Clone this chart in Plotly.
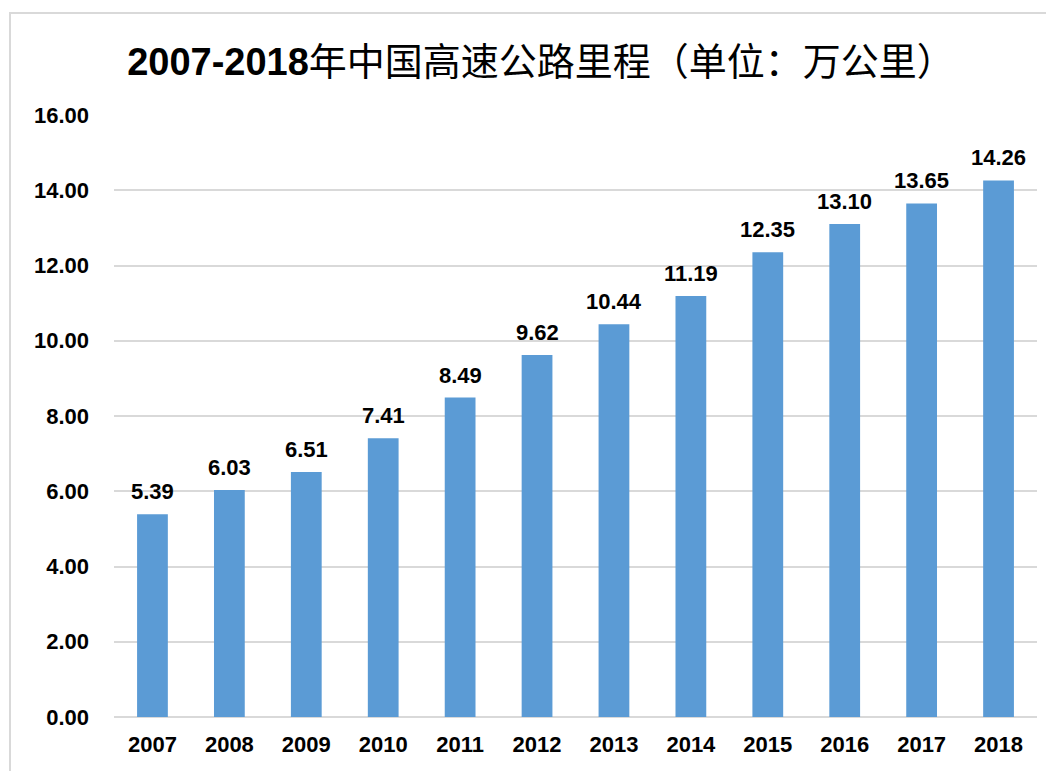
import plotly.graph_objects as go

years = ["2007", "2008", "2009", "2010", "2011", "2012", "2013", "2014", "2015", "2016", "2017", "2018"]
mileage = [5.39, 6.03, 6.51, 7.41, 8.49, 9.62, 10.44, 11.19, 12.35, 13.10, 13.65, 14.26]
y_ticks = [0, 2, 4, 6, 8, 10, 12, 14, 16]
title_text = "<b>2007-2018</b>年中国高速公路里程（单位：万公里）"

fig = go.Figure()
fig.add_trace(go.Bar(
    x=years, y=mileage,
    marker=dict(color="#5B9BD5", line=dict(width=0)),
    hoverinfo="skip",
))

for i, v in enumerate(mileage):
    fig.add_annotation(
        x=i, y=v, text=f"<b>{v:.2f}</b>", showarrow=False,
        yanchor="bottom", yshift=8,
        font=dict(family="Liberation Sans, Arial, sans-serif", size=22, color="#000000"),
    )

fig.update_layout(
    width=1054, height=771,
    margin=dict(l=106, r=25, t=107, b=62, autoexpand=False),
    paper_bgcolor="white", plot_bgcolor="white",
    bargap=0.6,
    showlegend=False,
    title=dict(
        text=title_text,
        x=533 / 1054, xanchor="center", xref="container",
        y=1 - 54 / 771, yanchor="middle",
        font=dict(family="Liberation Sans, Noto Sans CJK SC, sans-serif", size=38, color="#000000"),
    ),
    xaxis=dict(
        type="category", range=[-0.5, len(years) - 0.5],
        showgrid=False, showline=False, zeroline=False,
        ticks="", ticklabelstandoff=12,
        tickfont=dict(family="Liberation Sans, Arial, sans-serif", size=22, color="#000000", weight="bold"),
    ),
    yaxis=dict(
        range=[0, 16], tickvals=y_ticks, tickformat=".2f",
        showgrid=True, gridcolor="#D9D9D9", gridwidth=1.5,
        zeroline=True, zerolinecolor="#D9D9D9", zerolinewidth=1.5,
        showline=False, ticks="", ticklabelstandoff=24,
        tickfont=dict(family="Liberation Sans, Arial, sans-serif", size=22, color="#000000", weight="bold"),
    ),
)

# outer chart frame (light gray border, cut off at right and bottom)
fig.add_shape(
    type="rect", xref="paper", yref="paper",
    x0=(10 - 114) / 923, x1=1.05, y0=-0.15, y1=(717 - 13) / 602,
    line=dict(color="#D9D9D9", width=2), fillcolor="rgba(0,0,0,0)", layer="below",
)

fig.write_html("out.html")
